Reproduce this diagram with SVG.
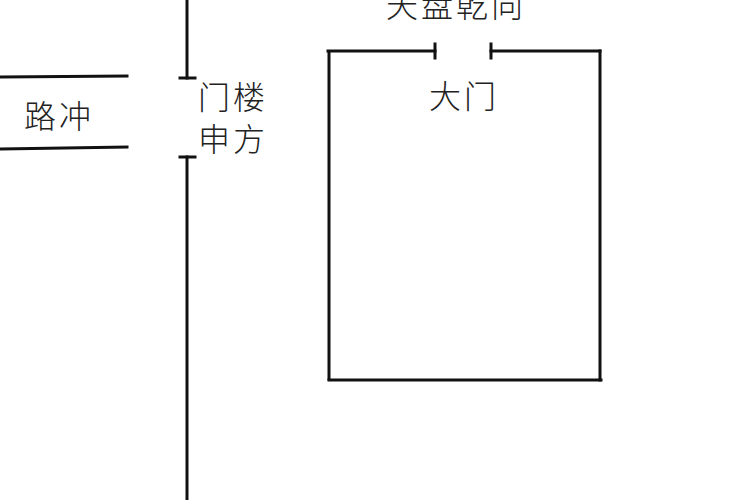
<svg xmlns="http://www.w3.org/2000/svg" width="750" height="500" viewBox="0 0 750 500">
<style>
line{stroke:#111;stroke-width:3;stroke-linecap:square}
text{font-family:"Noto Sans CJK SC",sans-serif;font-size:32px;fill:#222;font-weight:300;letter-spacing:3px}
</style>
<rect width="750" height="500" fill="#fff"/>
<g id="connectors">
<line x1="187" y1="0" x2="187" y2="78"/>
<line x1="180" y1="78" x2="195" y2="78"/>
<line x1="187" y1="157" x2="187" y2="500"/>
<line x1="180" y1="157" x2="195" y2="157"/>
<line x1="0" y1="77" x2="127" y2="76"/>
<line x1="0" y1="149" x2="127" y2="147"/>
</g>
<g id="house">
<line x1="328" y1="51" x2="435" y2="51"/>
<line x1="435" y1="44" x2="435" y2="58"/>
<line x1="491" y1="51" x2="600" y2="51"/>
<line x1="491" y1="44" x2="491" y2="58"/>
<line x1="329" y1="53" x2="329" y2="379"/>
<line x1="600" y1="51" x2="600" y2="380"/>
<line x1="329" y1="380" x2="601" y2="380"/>
</g>
<g id="labels">
<text x="456" y="17" text-anchor="middle">天盘乾向</text>
<text x="464" y="108" text-anchor="middle">大门</text>
<text x="233" y="109" text-anchor="middle">门楼</text>
<text x="233" y="151" text-anchor="middle">申方</text>
<text x="59" y="128" text-anchor="middle">路冲</text>
</g>
</svg>
